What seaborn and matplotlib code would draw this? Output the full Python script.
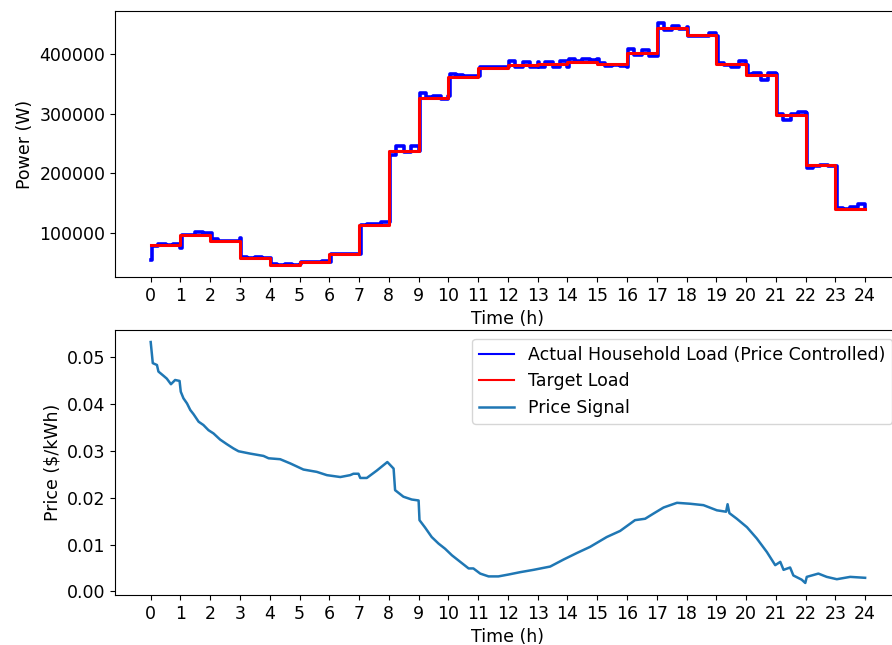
import matplotlib
matplotlib.use("Agg")
import matplotlib.pyplot as plt
from matplotlib.lines import Line2D
import seaborn as sns
import numpy as np
import pandas as pd

plt.rcParams["font.size"] = 12.5
plt.rcParams["font.family"] = ["DejaVu Sans"]

hours = list(range(25))

# target load per hour (W), hour 0..23
target_load = [79000, 95600, 86000, 57500, 46200, 50700, 63700, 113500,
               236900, 326000, 361800, 376400, 382000, 383000, 387000, 383000,
               401700, 443000, 431300, 383000, 364600, 297400, 213300, 140400]

# actual household load, read at h+0.05, h+0.25, h+0.5, h+0.75, h+1.0
sample_offsets = [0.05, 0.25, 0.5, 0.75, 1.0]
actual_start = 55000
actual_load = [
    78000, 81000, 80000, 81000, 74000,       # 0
    97000, 96000, 101000, 99000, 100000,     # 1
    89000, 86000, 86000, 87000, 91000,       # 2
    59000, 58000, 59000, 58000, 57000,       # 3
    47000, 46000, 47000, 46000, 47000,       # 4
    51000, 51000, 51000, 52000, 51000,       # 5
    64000, 64000, 65000, 64000, 64000,       # 6
    113000, 114000, 115000, 118000, 118000,  # 7
    230000, 246000, 235000, 245000, 238000,  # 8
    334000, 328000, 330000, 325000, 330000,  # 9
    366000, 365000, 363000, 363000, 363000,  # 10
    378000, 379000, 379000, 378000, 378000,  # 11
    388000, 378000, 387000, 378000, 386000,  # 12
    378000, 386000, 379000, 388000, 378000,  # 13
    392000, 388000, 391000, 390000, 392000,  # 14
    385000, 380000, 382000, 380000, 379000,  # 15
    408000, 398000, 407000, 397000, 397000,  # 16
    452000, 440000, 447000, 442000, 445000,  # 17
    430000, 431000, 430000, 435000, 431000,  # 18
    385000, 382000, 378000, 388000, 381000,  # 19
    366000, 368000, 357000, 369000, 366000,  # 20
    300000, 290000, 300000, 302000, 301000,  # 21
    208000, 212000, 214000, 212000, 212000,  # 22
    142000, 140000, 143000, 148000, 140000,  # 23
]

# price signal ($/kWh)
price_time = [0.0, 0.07, 0.21, 0.26, 0.43, 0.54, 0.68, 0.82, 0.97, 1.01,
              1.10, 1.22, 1.33, 1.44, 1.61, 1.77, 1.94, 2.11, 2.33, 2.56,
              2.78, 2.95, 3.34, 3.79, 3.96, 4.35, 4.69, 5.13, 5.58, 5.92,
              6.37, 6.70, 6.81, 6.98, 7.04, 7.26, 7.60, 7.95, 8.16, 8.21,
              8.49, 8.77, 9.00, 9.03, 9.22, 9.44, 9.67, 9.89, 10.12, 10.40,
              10.68, 10.84, 11.07, 11.35, 11.68, 12.02, 12.41, 12.86, 13.42, 13.87,
              14.32, 14.76, 15.32, 15.77, 16.27, 16.61, 16.89, 17.23, 17.68, 18.12,
              18.57, 19.02, 19.33, 19.38, 19.44, 19.69, 20.03, 20.36, 20.70, 20.98,
              21.15, 21.26, 21.48, 21.59, 21.87, 21.99, 22.04, 22.43, 22.71, 23.05,
              23.50, 24.0]
price_value = [0.0532, 0.0487, 0.0483, 0.0469, 0.0460, 0.0454, 0.0442, 0.0451, 0.0449, 0.0426,
               0.0412, 0.0401, 0.0387, 0.0378, 0.0362, 0.0355, 0.0344, 0.0337, 0.0324, 0.0314,
               0.0305, 0.0299, 0.0294, 0.0289, 0.0284, 0.0282, 0.0273, 0.0260, 0.0255, 0.0248,
               0.0244, 0.0248, 0.0251, 0.0251, 0.0242, 0.0242, 0.0258, 0.0276, 0.0262, 0.0216,
               0.0202, 0.0196, 0.0194, 0.0152, 0.0136, 0.0116, 0.0102, 0.0091, 0.0077, 0.0063,
               0.0049, 0.0049, 0.0038, 0.0032, 0.0032, 0.0036, 0.0041, 0.0046, 0.0053, 0.0068,
               0.0082, 0.0095, 0.0116, 0.0129, 0.0152, 0.0155, 0.0166, 0.0179, 0.0189, 0.0187,
               0.0184, 0.0173, 0.0170, 0.0186, 0.0167, 0.0155, 0.0137, 0.0113, 0.0084, 0.0056,
               0.0063, 0.0046, 0.0051, 0.0034, 0.0025, 0.0018, 0.0031, 0.0038, 0.0031, 0.0026,
               0.0031, 0.0029]

actual_time = [0.0] + [h + o for h in range(24) for o in sample_offsets]
actual = pd.DataFrame({"t": actual_time, "p": [actual_start] + actual_load})
target = pd.DataFrame({"t": hours, "p": target_load + target_load[-1:]})
price = pd.DataFrame({"t": price_time, "v": price_value})

fig = plt.figure(figsize=(8.92, 6.45), dpi=100)
ax1 = fig.add_axes([0.1289, 0.5705, 0.881, 0.4124])
ax2 = fig.add_axes([0.1289, 0.0775, 0.881, 0.4109])

sns.lineplot(data=actual, x="t", y="p", ax=ax1, color="blue", linewidth=2.6,
             estimator=None, sort=False, drawstyle="steps-post", legend=False)
sns.lineplot(data=target, x="t", y="p", ax=ax1, color="red", linewidth=2.2,
             estimator=None, drawstyle="steps-post", legend=False)
sns.lineplot(data=price, x="t", y="v", ax=ax2, color="#1f77b4", linewidth=1.8,
             estimator=None, sort=False, legend=False)

for ax in (ax1, ax2):
    ax.set_xticks(hours)
    ax.set_xlabel("Time (h)")
ax1.set_ylabel("Power (W)")
ax2.set_ylabel("Price ($/kWh)")

handles = [Line2D([], [], color="blue", lw=1.5),
           Line2D([], [], color="red", lw=1.5),
           Line2D([], [], color="#1f77b4", lw=1.8)]
labels = ["Actual Household Load (Price Controlled)", "Target Load", "Price Signal"]
ax2.legend(handles, labels, loc="upper right")

fig.savefig("out.png", dpi=100)
